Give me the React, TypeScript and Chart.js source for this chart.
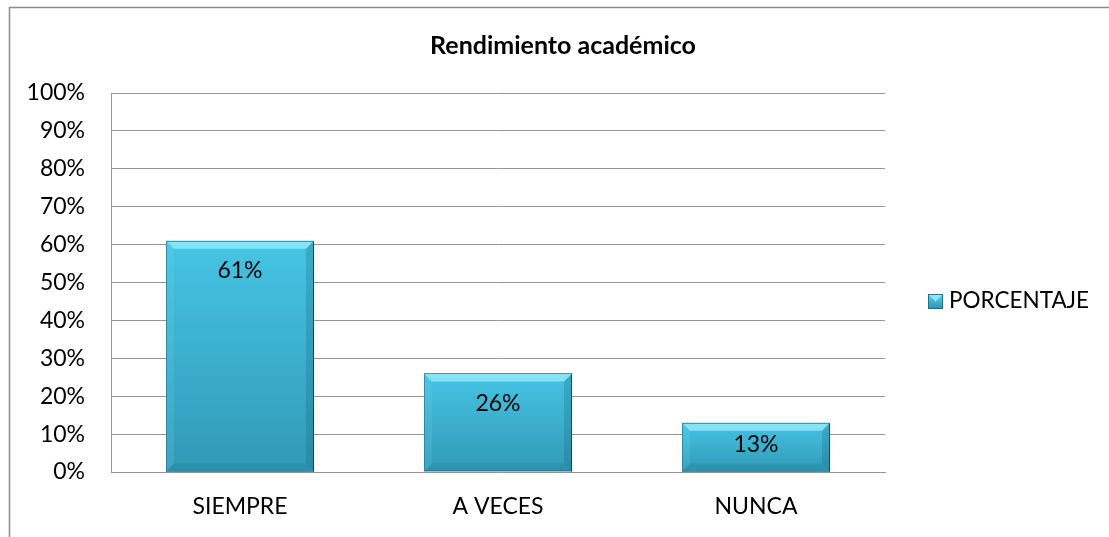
import React, { useEffect, useRef } from "react";
import { Chart, registerables } from "chart.js";

Chart.register(...registerables);

const categories = ["SIEMPRE", "A VECES", "NUNCA"];
const values = [61, 26, 13];
const seriesName = "PORCENTAJE";
const chartTitle = "Rendimiento académico";
const yMin = 0;
const yMax = 100;
const yStep = 10;

const FONT = "Lato, 'Noto Sans', sans-serif";

const framePlugin = {
  id: "frame",
  beforeDraw(chart: any) {
    const ctx = chart.ctx;
    ctx.save();
    ctx.fillStyle = "#ffffff";
    ctx.fillRect(0, 0, chart.width, chart.height);
    ctx.strokeStyle = "#8c8c8c";
    ctx.lineWidth = 1.5;
    ctx.beginPath();
    ctx.moveTo(9.5, chart.height);
    ctx.lineTo(9.5, 7.5);
    ctx.lineTo(chart.width, 7.5);
    ctx.stroke();
    // title
    ctx.fillStyle = "#000000";
    ctx.font = `bold 25px ${FONT}`;
    ctx.textAlign = "center";
    ctx.textBaseline = "middle";
    ctx.fillText(chartTitle, 563, 46);
    ctx.restore();
  },
};

const bevelPlugin = {
  id: "bevel",
  afterDatasetsDraw(chart: any) {
    const ctx = chart.ctx;
    const meta = chart.getDatasetMeta(0);
    ctx.save();
    meta.data.forEach((bar: any, i: number) => {
      const p = bar.getProps(["x", "y", "base", "width"], true);
      const l = p.x - p.width / 2;
      const r = p.x + p.width / 2;
      const t = p.y;
      const b = p.base;
      const bv = Math.min(8, (b - t) / 3);
      // top bevel
      ctx.fillStyle = "rgba(150,235,252,0.8)";
      ctx.beginPath();
      ctx.moveTo(l, t);
      ctx.lineTo(r, t);
      ctx.lineTo(r - bv, t + bv);
      ctx.lineTo(l + bv, t + bv);
      ctx.closePath();
      ctx.fill();
      // left bevel
      ctx.fillStyle = "rgba(120,215,240,0.18)";
      ctx.beginPath();
      ctx.moveTo(l, t);
      ctx.lineTo(l + bv, t + bv);
      ctx.lineTo(l + bv, b - bv);
      ctx.lineTo(l, b);
      ctx.closePath();
      ctx.fill();
      // right bevel
      ctx.fillStyle = "rgba(20,100,125,0.25)";
      ctx.beginPath();
      ctx.moveTo(r, t);
      ctx.lineTo(r - bv, t + bv);
      ctx.lineTo(r - bv, b - bv);
      ctx.lineTo(r, b);
      ctx.closePath();
      ctx.fill();
      // bottom bevel
      ctx.fillStyle = "rgba(20,90,115,0.14)";
      ctx.beginPath();
      ctx.moveTo(l, b);
      ctx.lineTo(r, b);
      ctx.lineTo(r - bv, b - bv);
      ctx.lineTo(l + bv, b - bv);
      ctx.closePath();
      ctx.fill();
      // outline
      ctx.strokeStyle = "rgba(40,120,140,0.7)";
      ctx.lineWidth = 1;
      ctx.strokeRect(Math.round(l) + 0.5, Math.round(t) + 0.5, Math.round(r - l) - 1, Math.round(b - t) - 1);
      ctx.strokeStyle = "rgba(15,60,75,0.85)";
      ctx.beginPath();
      ctx.moveTo(Math.round(r) - 0.5, t + 1);
      ctx.lineTo(Math.round(r) - 0.5, b);
      ctx.stroke();
      // data label
      ctx.fillStyle = "#000000";
      ctx.font = `23px ${FONT}`;
      ctx.textAlign = "center";
      ctx.textBaseline = "middle";
      const off = Math.min(30, (b - t) / 2 - 3);
      ctx.fillText(`${values[i]}%`, p.x, t + off);
    });
    ctx.restore();
  },
};

const legendPlugin = {
  id: "customLegend",
  afterDraw(chart: any) {
    const ctx = chart.ctx;
    ctx.save();
    const x = 928, y = 294, s = 15;
    const g = ctx.createLinearGradient(0, y, 0, y + s);
    g.addColorStop(0, "#5fd0ee");
    g.addColorStop(1, "#2a93b0");
    ctx.fillStyle = g;
    ctx.fillRect(x, y, s, s);
    ctx.fillStyle = "rgba(150,235,252,0.85)";
    ctx.beginPath();
    ctx.moveTo(x, y); ctx.lineTo(x + s, y); ctx.lineTo(x + s / 2, y + s / 2); ctx.closePath();
    ctx.fill();
    ctx.strokeStyle = "rgba(25,95,115,0.8)";
    ctx.lineWidth = 1;
    ctx.strokeRect(x + 0.5, y + 0.5, s - 1, s - 1);
    ctx.fillStyle = "#000000";
    ctx.font = `22.5px ${FONT}`;
    ctx.textAlign = "left";
    ctx.textBaseline = "middle";
    ctx.fillText(seriesName, 949, 301);
    ctx.restore();
  },
};

export default function App() {
  const canvasRef = useRef<HTMLCanvasElement | null>(null);

  useEffect(() => {
    document.body.style.margin = "0";
    const canvas = canvasRef.current;
    if (!canvas) return;
    const chart = new Chart(canvas, {
      type: "bar",
      data: {
        labels: categories,
        datasets: [
          {
            label: seriesName,
            data: values,
            backgroundColor: (c: any) => {
              const ch = c.chart;
              const ys = ch.scales && ch.scales.y;
              if (!ys || c.dataIndex === undefined) return "#3bb6d8";
              const top = ys.getPixelForValue(values[c.dataIndex]);
              const bottom = ys.getPixelForValue(0);
              if (!isFinite(top) || !isFinite(bottom)) return "#3bb6d8";
              const g = ch.ctx.createLinearGradient(0, top, 0, bottom);
              g.addColorStop(0, "#46c4e4");
              g.addColorStop(1, "#3099b6");
              return g;
            },
            borderWidth: 0,
            barPercentage: 0.574,
            categoryPercentage: 1,
          },
        ],
      },
      options: {
        responsive: false,
        animation: false,
        layout: { padding: { left: 0, right: 224, top: 93, bottom: 0 } },
        plugins: {
          legend: { display: false },
          tooltip: { enabled: false },
          title: { display: false },
        },
        scales: {
          x: {
            grid: { display: false, drawTicks: false },
            border: { display: true, color: "#969696", width: 1 },
            ticks: { color: "#000000", font: { family: FONT, size: 23 }, padding: 21 },
            afterFit: (s: any) => { s.height = 65; },
          },
          y: {
            min: yMin,
            max: yMax,
            grid: { color: "#969696", drawTicks: false, lineWidth: 1 },
            border: { display: true, color: "#969696", width: 1 },
            ticks: {
              stepSize: yStep,
              color: "#000000",
              font: { family: FONT, size: 23 },
              padding: 26,
              callback: (v: any) => `${v}%`,
            },
            afterFit: (s: any) => { s.width = 111; },
          },
        },
      },
      plugins: [framePlugin, bevelPlugin, legendPlugin],
    });
    return () => chart.destroy();
  }, []);

  return (
    <div style={{ position: "fixed", left: 0, top: 0, width: 1109, height: 537 }}>
      <canvas ref={canvasRef} width={1109} height={537} />
    </div>
  );
}
